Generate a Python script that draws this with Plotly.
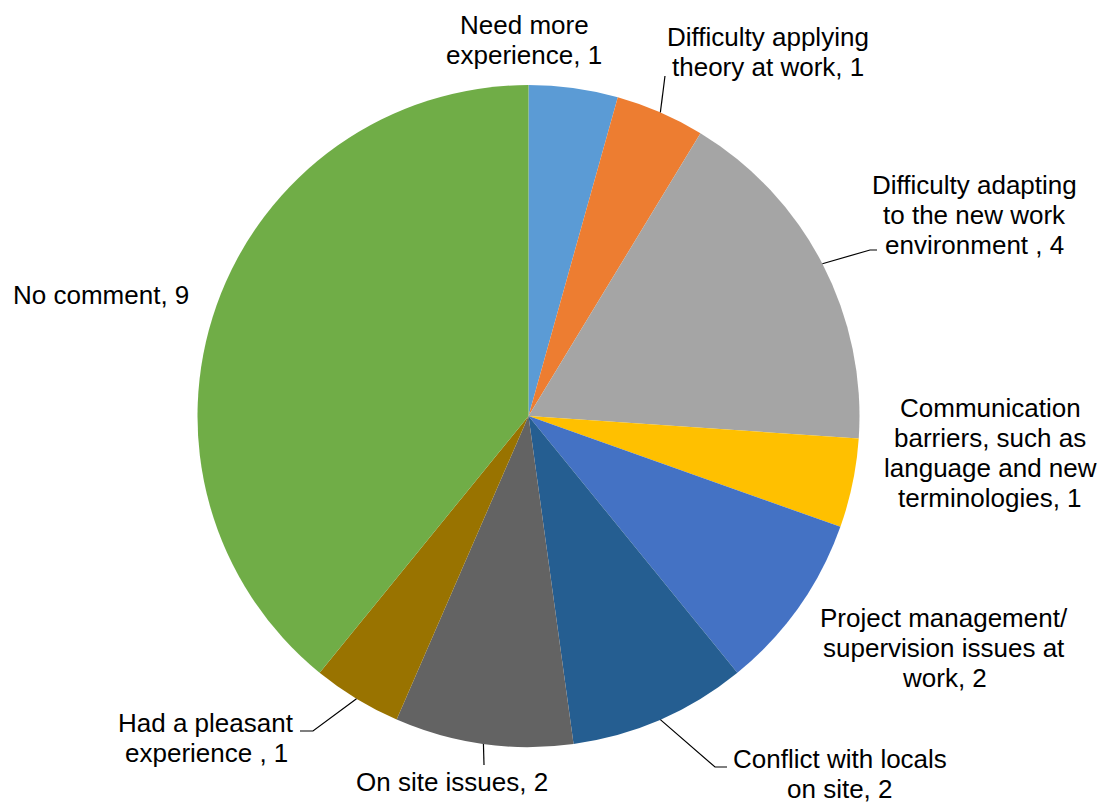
import math
import plotly.graph_objects as go

# ---- data ----
categories = [
    "Need more experience",
    "Difficulty applying theory at work",
    "Difficulty adapting to the new work environment ",
    "Communication barriers, such as language and new terminologies",
    "Project management/ supervision issues at work",
    "Conflict with locals on site",
    "On site issues",
    "Had a pleasant experience ",
    "No comment",
]
values = [1, 1, 4, 1, 2, 2, 2, 1, 9]
label_lines = [
    ["Need more", "experience, 1"],
    ["Difficulty applying", "theory at work, 1"],
    ["Difficulty adapting", "to the new work", "environment , 4"],
    ["Communication", "barriers, such as", "language and new", "terminologies, 1"],
    ["Project management/", "supervision issues at", "work, 2"],
    ["Conflict with locals", "on site, 2"],
    ["On site issues, 2"],
    ["Had a pleasant", "experience , 1"],
    ["No comment, 9"],
]
colors = ["#5B9BD5", "#ED7D31", "#A5A5A5", "#FFC000", "#4472C4",
          "#255E91", "#636363", "#997300", "#70AD47"]

# ---- layout (pixels, page coordinates) ----
OFF = 8  # default body margin of the html page
W, H = 1108 - OFF, 804 - OFF
CX, CY, R = 528.5, 416.0, 331.0
FS = 26
LINE_H = 30

# label anchor: (center x, center y of first line)
label_pos = [
    (524, 25),
    (768, 37),
    (974, 185),
    (990, 408),
    (944, 618),
    (840, 759),
    (452, 782),
    (206, 723),
    (101, 295),
]
# leader elbows (pixel points after the slice-edge point), None = no leader
leader_elbows = [
    None,
    [(665, 76)],
    [(870, 250), (877, 250)],
    None,
    None,
    [(715, 767), (727, 767)],
    [(484, 765)],
    [(313, 731), (300, 731)],
    None,
]


def px(x):
    return (x - OFF) / W


def py(y):
    return 1 - (y - OFF) / H


fig = go.Figure(go.Pie(
    labels=categories,
    values=values,
    sort=False,
    direction="clockwise",
    rotation=0,
    marker=dict(colors=colors, line=dict(width=0)),
    textinfo="none",
    hoverinfo="label+value",
    domain=dict(x=[px(CX - R), px(CX + R)], y=[py(CY + R), py(CY - R)]),
    showlegend=False,
))

annotations = []
for lines, (x, y) in zip(label_lines, label_pos):
    for i, line in enumerate(lines):
        annotations.append(dict(
            x=px(x), y=py(y + i * LINE_H), xref="paper", yref="paper",
            text=line, showarrow=False, xanchor="center", yanchor="middle",
            font=dict(family="Liberation Sans, Arial", size=FS, color="#000000"),
        ))

shapes = []
total = sum(values)
cum = 0
for v, elbows in zip(values, leader_elbows):
    mid = (cum + v / 2) / total * 2 * math.pi
    cum += v
    if elbows is None:
        continue
    sx = CX + R * math.sin(mid)
    sy = CY - R * math.cos(mid)
    pts = [(sx, sy)] + elbows
    path = "M " + " L ".join(f"{px(a):.5f},{py(b):.5f}" for a, b in pts)
    shapes.append(dict(type="path", xref="paper", yref="paper", path=path,
                       line=dict(color="#000000", width=1.2)))

fig.update_layout(
    width=W, height=H,
    margin=dict(l=0, r=0, t=0, b=0),
    paper_bgcolor="white",
    plot_bgcolor="white",
    annotations=annotations,
    shapes=shapes,
)

fig.write_html("out.html")
